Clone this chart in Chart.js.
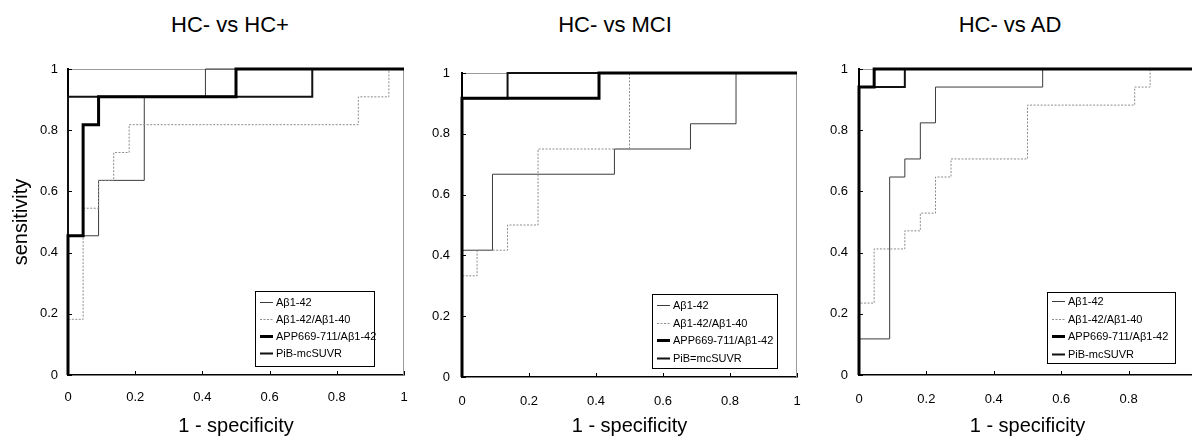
<!DOCTYPE html>
<html>
<head>
<meta charset="utf-8">
<script src="https://cdn.jsdelivr.net/npm/chart.js@4/dist/chart.umd.min.js"></script>
<style>
  html, body { margin: 0; padding: 0; background: #fff; }
  #wrap { position: relative; width: 1192px; height: 436px; overflow: hidden; background: #fff; }
  canvas { position: absolute; top: 0; }
  .ttl { position: absolute; top: 14px; width: 300px; text-align: center; font: 22px 'Liberation Sans', Arial, sans-serif; line-height: 22px; color: #000; white-space: nowrap; }
</style>
</head>
<body>
<div id="wrap">
  <div class="ttl" style="left:80px">HC- vs HC+</div>
  <div class="ttl" style="left:465px">HC- vs MCI</div>
  <div class="ttl" style="left:860px">HC- vs AD</div>
  <canvas id="c1" width="420" height="436" style="left:0px"></canvas>
  <canvas id="c2" width="390" height="436" style="left:420px"></canvas>
  <canvas id="c3" width="400" height="436" style="left:810px"></canvas>
</div>
<script>
// Axes
const xTicks = [0, 0.2, 0.4, 0.6, 0.8, 1];
const xTickLabels = ['0', '0.2', '0.4', '0.6', '0.8', '1'];
const yTicks = [0, 0.2, 0.4, 0.6, 0.8, 1];
const yTickLabels = ['0', '0.2', '0.4', '0.6', '0.8', '1'];

const methods = ['Aβ1-42', 'Aβ1-42/Aβ1-40', 'APP669-711/Aβ1-42', 'PiB-mcSUVR'];
const methodsMci = ['Aβ1-42', 'Aβ1-42/Aβ1-40', 'APP669-711/Aβ1-42', 'PiB=mcSUVR'];

// HC- vs HC+  (1 - specificity / sensitivity at each step)
const hcAb42Fpr = [0, 0, 0.091, 0.227, 0.409, 1];
const hcAb42Tpr = [0, 0.455, 0.636, 0.909, 1, 1];
const hcRatioFpr = [0, 0, 0.045, 0.091, 0.136, 0.182, 0.864, 0.955, 1];
const hcRatioTpr = [0, 0.182, 0.545, 0.636, 0.727, 0.818, 0.909, 1, 1];
const hcAppFpr = [0, 0, 0.045, 0.091, 0.5, 1];
const hcAppTpr = [0, 0.455, 0.818, 0.909, 1, 1];
const hcPibFpr = [0, 0, 0.727, 1];
const hcPibTpr = [0, 0.909, 1, 1];

// HC- vs MCI
const mciAb42Fpr = [0, 0, 0.091, 0.455, 0.682, 0.818, 1];
const mciAb42Tpr = [0, 0.417, 0.667, 0.75, 0.833, 1, 1];
const mciRatioFpr = [0, 0, 0.045, 0.136, 0.227, 0.5, 1];
const mciRatioTpr = [0, 0.333, 0.417, 0.5, 0.75, 1, 1];
const mciAppFpr = [0, 0, 0.409, 1];
const mciAppTpr = [0, 0.917, 1, 1];
const mciPibFpr = [0, 0, 0.136, 1];
const mciPibTpr = [0, 0.917, 1, 1];

// HC- vs AD
const adAb42Fpr = [0, 0, 0.091, 0.136, 0.182, 0.227, 0.545, 1];
const adAb42Tpr = [0, 0.118, 0.647, 0.706, 0.824, 0.941, 1, 1];
const adRatioFpr = [0, 0, 0.045, 0.136, 0.182, 0.227, 0.273, 0.5, 0.818, 0.864, 1];
const adRatioTpr = [0, 0.235, 0.412, 0.471, 0.529, 0.647, 0.706, 0.882, 0.941, 1, 1];
const adAppFpr = [0, 0, 0.045, 1];
const adAppTpr = [0, 0.941, 1, 1];
const adPibFpr = [0, 0, 0.136, 1];
const adPibTpr = [0, 0.941, 1, 1];

const FONT = "'Liberation Sans', Arial, Helvetica, sans-serif";

// line look per method, same order as methods
const methodStyles = [
  { color: '#3c3c3c', width: 1, dash: [], order: 3 },
  { color: '#8c8c8c', width: 1, dash: [2, 1.5], order: 2 },
  { color: '#000000', width: 3, dash: [], order: 0 },
  { color: '#111111', width: 2, dash: [], order: 1 }
];

const toPoints = (fpr, tpr) => fpr.map((x, i) => ({ x: x, y: tpr[i] }));

// Plugins
const frameAndTicks = {
  id: 'frameAndTicks',
  beforeDatasetsDraw(chart) {
    const { ctx, chartArea: a, scales: { x, y } } = chart;
    ctx.save();
    ctx.strokeStyle = '#9a9a9a';
    ctx.lineWidth = 1;
    ctx.beginPath();
    ctx.moveTo(a.left, a.top + 0.5);
    ctx.lineTo(a.right - 0.5, a.top + 0.5);
    ctx.lineTo(a.right - 0.5, a.bottom);
    ctx.stroke();
    // small inward tick marks
    ctx.strokeStyle = '#000';
    ctx.beginPath();
    xTicks.forEach(v => {
      const px = Math.round(x.getPixelForValue(v)) + 0.5;
      ctx.moveTo(px, a.bottom);
      ctx.lineTo(px, a.bottom - 4);
    });
    yTicks.forEach(v => {
      const py = Math.round(y.getPixelForValue(v)) + 0.5;
      ctx.moveTo(a.left, py);
      ctx.lineTo(a.left + 4, py);
    });
    ctx.stroke();
    ctx.restore();
  }
};

const boxLegend = {
  id: 'boxLegend',
  afterDatasetsDraw(chart, args, opts) {
    const { ctx, chartArea: a } = chart;
    const left = Math.round(a.right - opts.right - opts.width);
    const top = Math.round(a.bottom - opts.bottom - opts.height);
    ctx.save();
    ctx.fillStyle = '#fff';
    ctx.fillRect(left, top, opts.width, opts.height);
    ctx.strokeStyle = '#000';
    ctx.lineWidth = 1;
    ctx.strokeRect(left + 0.5, top + 0.5, opts.width, opts.height);
    ctx.font = '11px ' + FONT;
    ctx.textBaseline = 'middle';
    chart.data.datasets.forEach((ds, i) => {
      const yy = Math.round(top + opts.rowStart + i * opts.rowStep) + 0.5;
      ctx.strokeStyle = ds.borderColor;
      ctx.lineWidth = ds.borderWidth;
      ctx.setLineDash(ds.borderDash);
      ctx.beginPath();
      ctx.moveTo(left + 5, yy);
      ctx.lineTo(left + 18, yy);
      ctx.stroke();
      ctx.setLineDash([]);
      ctx.fillStyle = '#000';
      ctx.fillText(ds.label, left + 21, yy);
    });
    ctx.restore();
  }
};

const renderRoc = (p) => {
  const datasets = p.series.map((s, i) => {
    const st = methodStyles[i];
    return {
      label: p.labels[i],
      data: toPoints(s[0], s[1]),
      borderColor: st.color,
      borderWidth: st.width,
      borderDash: st.dash,
      order: st.order,
      stepped: true,
      pointRadius: 0,
      fill: false,
      clip: 4
    };
  });

  new Chart(document.getElementById(p.id), {
    type: 'line',
    data: { datasets: datasets },
    plugins: [frameAndTicks, boxLegend],
    options: {
      responsive: false,
      animation: false,
      layout: { padding: { top: p.top, right: p.right, left: 0, bottom: 0 } },
      plugins: {
        legend: { display: false },
        tooltip: { enabled: false },
        boxLegend: p.legend
      },
      scales: {
        x: {
          type: 'linear', min: 0, max: 1,
          afterBuildTicks: s => { s.ticks = xTicks.map(v => ({ value: v })); },
          afterFit: s => { s.height = p.bottomH; },
          ticks: {
            callback: (v, i) => xTickLabels[i],
            font: { size: 13, family: FONT }, color: '#000',
            padding: 0, maxRotation: 0, autoSkip: false
          },
          // tick marks are not drawn (grid off), the length only moves the labels down
          grid: { display: false, drawTicks: true, tickLength: p.xPad },
          border: { display: true, color: '#000', width: 1.5 },
          title: {
            display: true, text: '1 - specificity', color: '#000',
            font: { size: 20, family: FONT, lineHeight: 1 }, padding: 0
          }
        },
        y: {
          type: 'linear', min: 0, max: 1,
          afterBuildTicks: s => { s.ticks = yTicks.map(v => ({ value: v })); },
          afterFit: s => { s.width = p.leftW; },
          ticks: {
            callback: (v, i) => yTickLabels[i],
            font: { size: 13, family: FONT }, color: '#000',
            padding: p.yPad, autoSkip: false
          },
          grid: { display: false, drawTicks: false },
          border: { display: true, color: '#000', width: 2 },
          title: {
            display: !!p.yTitle, text: p.yTitle || '', color: '#000',
            font: { size: 20, family: FONT, lineHeight: 1.2 }, padding: { top: 9, bottom: 0 }
          }
        }
      }
    }
  });
};

// Main
renderRoc({
  id: 'c1', labels: methods, yTitle: 'sensitivity',
  series: [[hcAb42Fpr, hcAb42Tpr], [hcRatioFpr, hcRatioTpr], [hcAppFpr, hcAppTpr], [hcPibFpr, hcPibTpr]],
  top: 69, right: 16, leftW: 68, bottomH: 61, xPad: 15, yPad: 10,
  legend: { right: 30, bottom: 9, width: 119, height: 75, rowStart: 10.5, rowStep: 17 }
});
renderRoc({
  id: 'c2', labels: methodsMci,
  series: [[mciAb42Fpr, mciAb42Tpr], [mciRatioFpr, mciRatioTpr], [mciAppFpr, mciAppTpr], [mciPibFpr, mciPibTpr]],
  top: 73, right: 13, leftW: 42, bottomH: 59, xPad: 17, yPad: 12,
  legend: { right: 20, bottom: 9, width: 125, height: 74, rowStart: 11, rowStep: 17.5 }
});
renderRoc({
  id: 'c3', labels: methods,
  series: [[adAb42Fpr, adAb42Tpr], [adRatioFpr, adRatioTpr], [adAppFpr, adAppTpr], [adPibFpr, adPibTpr]],
  top: 69, right: 14, leftW: 49, bottomH: 61, xPad: 17, yPad: 11,
  legend: { right: 21, bottom: 12, width: 128, height: 71, rowStart: 9, rowStep: 17.5 }
});
</script>
</body>
</html>
